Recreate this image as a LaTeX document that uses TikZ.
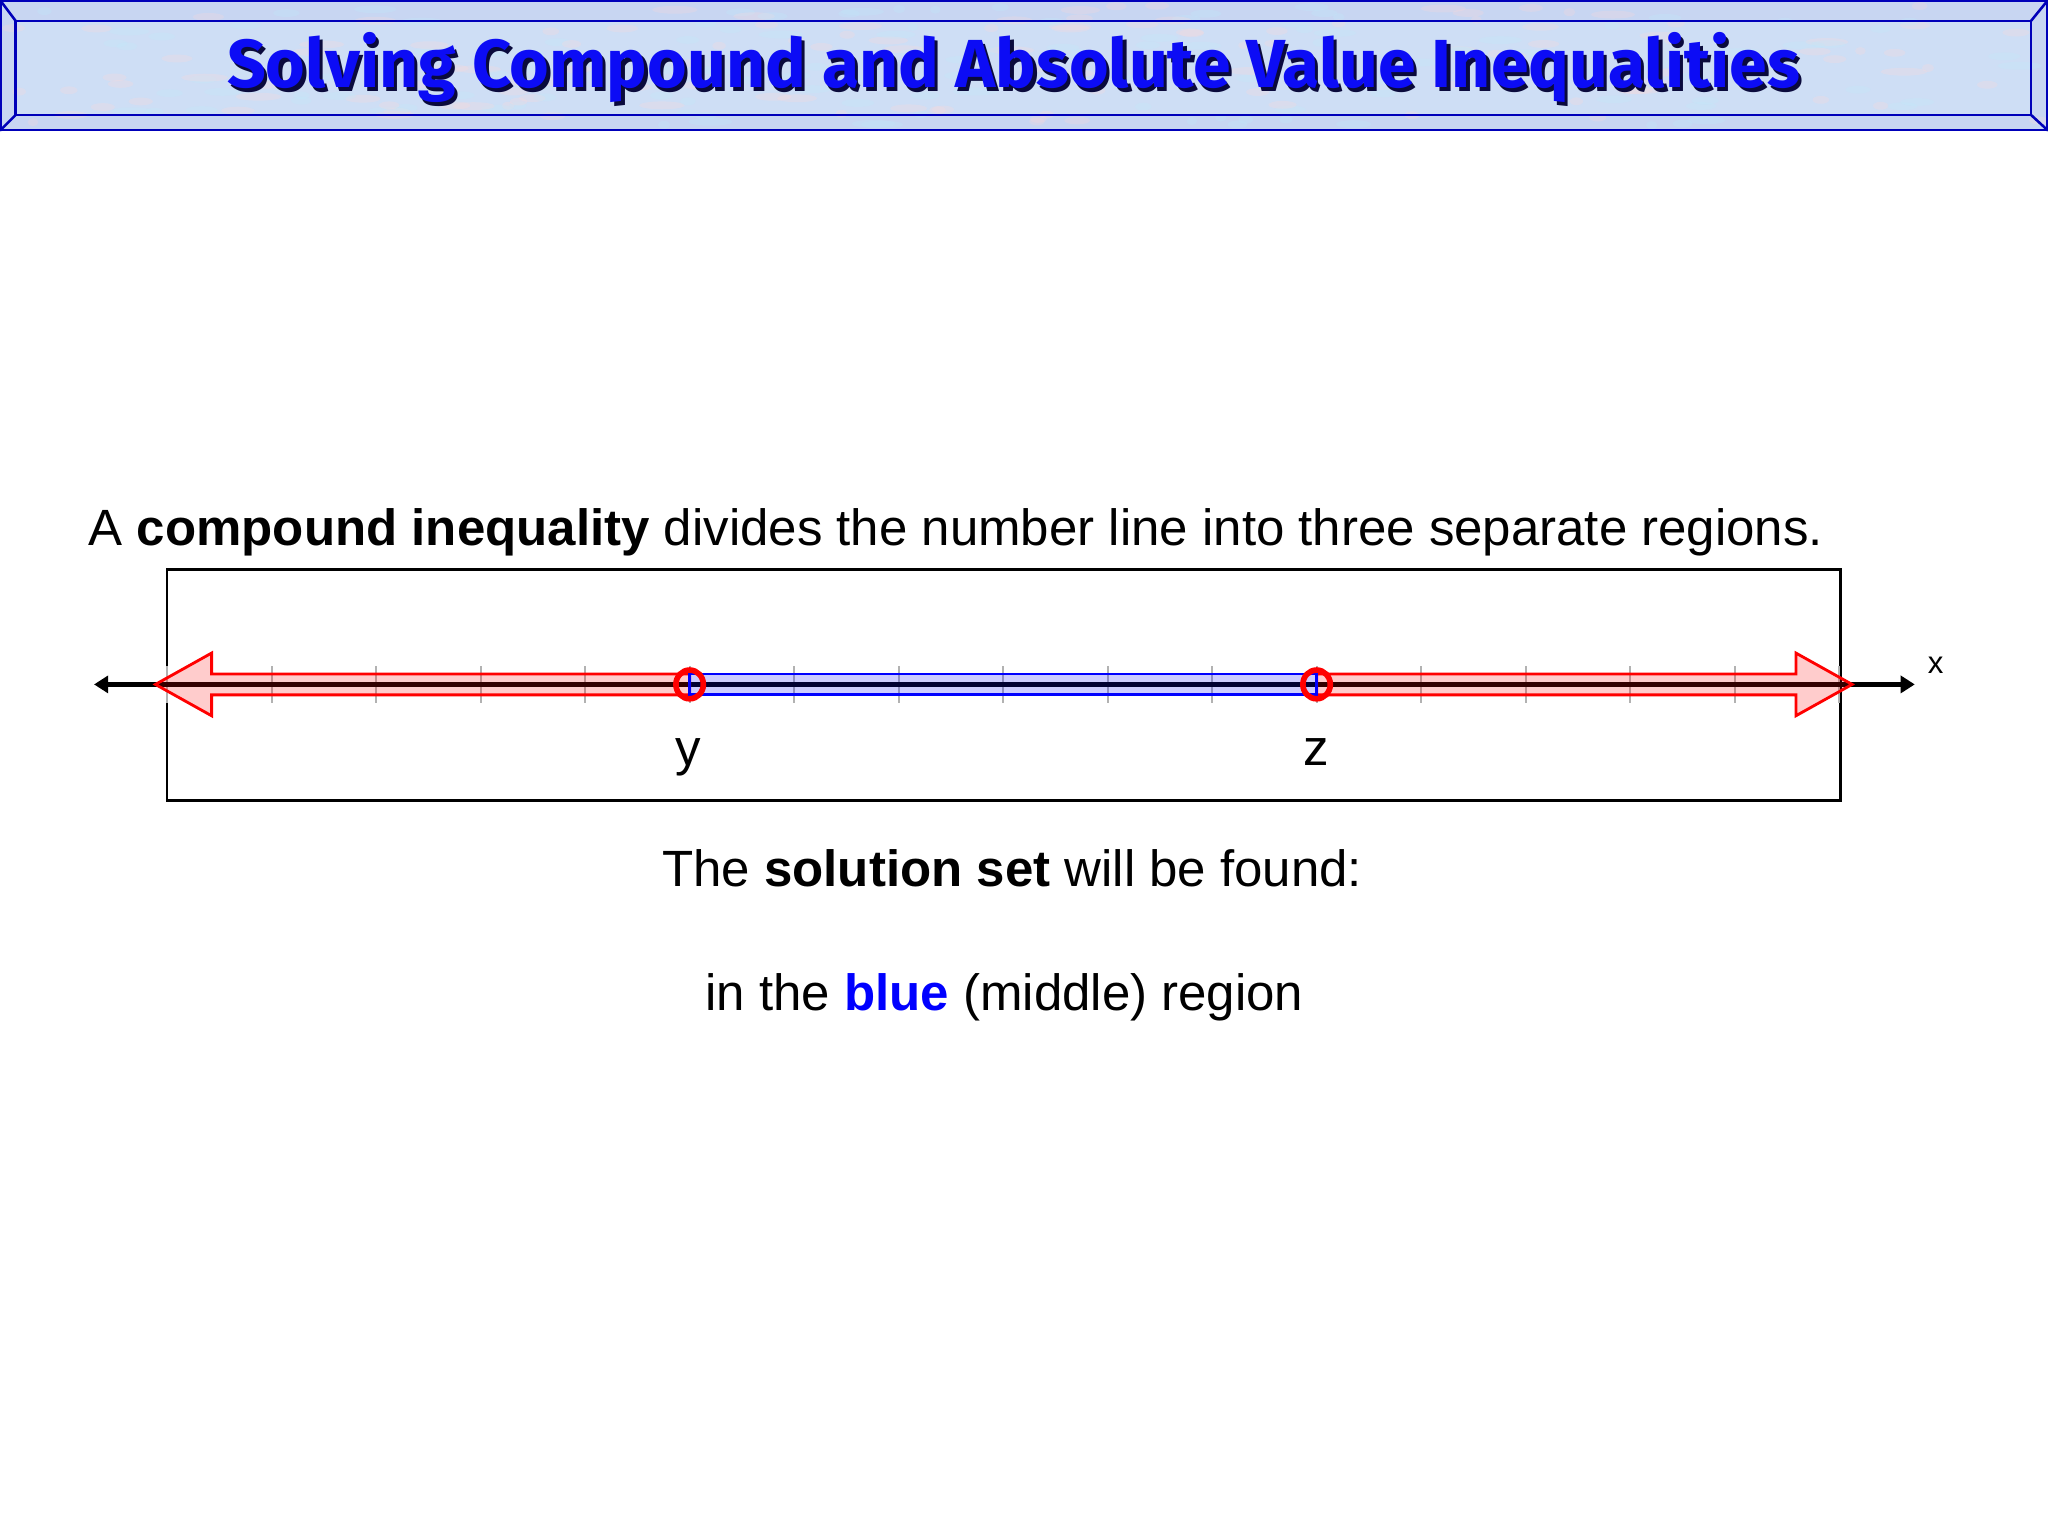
\documentclass[tikz,border=0pt]{standalone}
\usepackage{fontspec}
\setmainfont{Liberation Sans}
\newfontfamily\titlefont{Fira Sans}
\usetikzlibrary{arrows.meta,positioning,calc}

\definecolor{bannerblue}{RGB}{200,214,242}
\definecolor{bannerinner}{RGB}{206,222,245}
\definecolor{bannerline}{RGB}{0,0,185}
\definecolor{titleblue}{RGB}{12,12,245}
\definecolor{titleshade}{RGB}{10,10,60}
\definecolor{solblue}{RGB}{0,0,255}

\begin{document}
\begin{tikzpicture}[x=0.0162cm,y=-0.0162cm,
  every node/.style={inner sep=0pt,outer sep=0pt},
  titletext/.style={font=\titlefont\bfseries\fontsize{24}{28}\selectfont},
  bodytext/.style={font=\fontsize{18}{21}\selectfont},
  tickmark/.style={draw=gray!60,line width=0.7pt},
  region/.style={line width=1pt,fill opacity=0.2},
  endpt/.style={draw=red,line width=2pt}]

\useasboundingbox (0,0) rectangle (1568,1176);
\fill[white] (0,0) rectangle (1568,1176);

%% the banner with its bevelled frame
\fill[bannerblue] (0,0) rectangle (1568,100);
\fill[bannerinner] (12,16) rectangle (1555,88);
%% a light mottled texture
\pgfmathsetseed{7}
\foreach \i in {1,...,260}
{
  \pgfmathsetmacro\bx{rnd*1560+4}
  \pgfmathsetmacro\by{rnd*92+4}
  \pgfmathsetmacro\bw{rnd*14+4}
  \pgfmathparse{rnd>0.5 ? "pink!60" : "cyan!25"}
  \fill[\pgfmathresult,opacity=0.25] (\bx,\by) ellipse [x radius=\bw,y radius=3];
}
\draw[bannerline,line width=0.9pt] (0.5,0.5) rectangle (1567.5,99.5);
\draw[bannerline,line width=0.9pt] (12,16) rectangle (1555,88);
\foreach \ox/\oy/\ix/\iy in {0/0/12/16, 1568/0/1555/16, 0/100/12/88, 1568/100/1555/88}
  \draw[bannerline,line width=0.9pt] (\ox,\oy) -- (\ix,\iy);

\node[titletext,text=titleshade] (titleshadow) at (778.5,54.5) {Solving Compound and Absolute Value Inequalities};
\node[titletext,text=titleblue] (title) at (776,52) {Solving Compound and Absolute Value Inequalities};

%% sentence above the box
\node[bodytext,anchor=base west] (sentence) at (68,418)
  {A \textbf{compound inequality} divides the number line into three separate regions.};

%% the box round the number line
\draw[line width=0.9pt] (128,436) rectangle (1409,613);

\def\ntick{16}
\def\tickgap{80}
\foreach \k in {0,...,\ntick}
{
  \pgfmathsetmacro\tx{128+\tickgap*\k}
  \draw[tickmark] (\tx,510) -- (\tx,538);
}

\coordinate (lineL) at (72,524);
\coordinate (lineR) at (1466,524);
\coordinate (ypt) at (528,524);
\coordinate (zpt) at (1008,524);

\draw[line width=1.6pt,{Triangle[length=5pt,width=6pt]}-{Triangle[length=5pt,width=6pt]}] (lineL) -- (lineR);

%% the three regions
\def\shaft{8}
\draw[region,draw=red,fill=red] (ypt) ++(0,-\shaft) -- (162,516) -- (162,500) -- (119,524)
  -- (162,548) -- (162,532) -- ($(ypt)+(0,\shaft)$) -- cycle;
\draw[region,draw=red,fill=red] (zpt) ++(0,-\shaft) -- (1375,516) -- (1375,500) -- (1418,524)
  -- (1375,548) -- (1375,532) -- ($(zpt)+(0,\shaft)$) -- cycle;
\draw[region,draw=solblue,fill=solblue] ($(ypt)+(0,-\shaft)$) rectangle ($(zpt)+(0,\shaft)$);

\foreach \p in {ypt,zpt}
  \draw[endpt] (\p) circle [x radius=10.5,y radius=11];

\node[bodytext,anchor=base] (ylabel) at (527,586) {y};
\node[bodytext,anchor=base] (zlabel) at (1008,586) {z};
\node[font=\fontsize{11}{13}\selectfont,anchor=base] (xlabel) at (1482,516) {x};

%% the two lines under the box
\node[bodytext,anchor=base] (found) at (775,679) {The \textbf{solution set} will be found:};
\node[bodytext,anchor=base] (region) at (769,774) {in the \textbf{\color{solblue}blue} (middle) region};

\end{tikzpicture}
\end{document}
